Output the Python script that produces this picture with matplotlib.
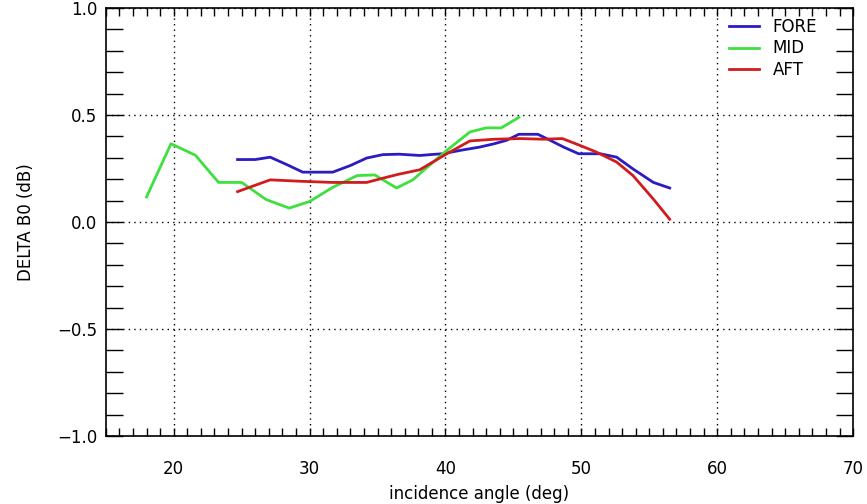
import matplotlib
matplotlib.use("Agg")
import matplotlib.pyplot as plt
from matplotlib.ticker import MultipleLocator, FixedLocator

# incidence angle (deg) and delta B0 (dB) per beam
fore_x = [24.7, 26.0, 27.1, 28.3, 29.5, 31.7, 33.0, 34.2, 35.4, 36.6, 38.1, 39.1,
          39.8, 41.1, 42.5, 43.6, 44.5, 45.4, 46.8, 47.7, 48.7, 49.8, 51.4, 52.6,
          53.8, 55.3, 56.5]
fore_y = [0.292, 0.292, 0.303, 0.269, 0.233, 0.233, 0.264, 0.299, 0.315, 0.317, 0.311,
          0.316, 0.319, 0.335, 0.350, 0.366, 0.382, 0.410, 0.410, 0.382, 0.350, 0.319,
          0.319, 0.303, 0.248, 0.185, 0.159]

mid_x = [18.0, 19.8, 21.6, 23.3, 25.0, 26.8, 28.5, 30.0, 31.7, 33.5, 34.8, 36.4,
         37.6, 38.6, 40.1, 41.8, 43.0, 44.1, 45.4]
mid_y = [0.117, 0.366, 0.312, 0.185, 0.185, 0.105, 0.065, 0.096, 0.162, 0.217, 0.220,
         0.159, 0.197, 0.253, 0.335, 0.421, 0.440, 0.440, 0.489]

aft_x = [24.7, 27.1, 29.5, 31.7, 34.2, 35.4, 36.6, 38.1, 40.1, 41.8, 43.6, 45.5,
         47.2, 48.6, 49.9, 51.1, 52.6, 53.8, 55.3, 56.5]
aft_y = [0.142, 0.197, 0.190, 0.185, 0.185, 0.205, 0.224, 0.244, 0.319, 0.379, 0.387,
         0.390, 0.387, 0.390, 0.358, 0.327, 0.280, 0.217, 0.107, 0.013]

x_labels = [20, 30, 40, 50, 60, 70]
y_labels = [-1.0, -0.5, 0.0, 0.5, 1.0]

plt.rcParams["font.family"] = ["DejaVu Sans"]
plt.rcParams["axes.unicode_minus"] = True

fig = plt.figure(figsize=(8.67, 5.04), dpi=100)
ax = fig.add_axes([0.122, 0.135, 0.862, 0.849])

ax.plot(fore_x, fore_y, color="#2a1cc0", linewidth=2, label="FORE")
ax.plot(mid_x, mid_y, color="#3ee03e", linewidth=2, label="MID")
ax.plot(aft_x, aft_y, color="#d01c1c", linewidth=2, label="AFT")

ax.set_xlim(15, 70)
ax.set_ylim(-1.0, 1.0)

ax.xaxis.set_major_locator(FixedLocator(x_labels))
ax.xaxis.set_minor_locator(MultipleLocator(1))
ax.yaxis.set_major_locator(FixedLocator(y_labels))
ax.yaxis.set_minor_locator(MultipleLocator(0.1))
ax.set_yticklabels([f"{v:.1f}".replace("-", "\u2212") for v in y_labels])

ax.tick_params(axis="both", which="both", direction="in", top=True, right=True,
               color="black", labelsize=12, width=1)
ax.tick_params(axis="x", which="both", length=6, pad=17)
ax.tick_params(axis="y", which="both", length=12, pad=6)

ax.grid(True, which="major", color="black", linestyle=(0, (1, 3)), linewidth=1)

for sp in ax.spines.values():
    sp.set_linewidth(1.2)

ax.set_xlabel("incidence angle (deg)", fontsize=12, labelpad=5)
ax.set_ylabel("DELTA B0 (dB)", fontsize=12, labelpad=16)

ax.legend(loc="upper right", frameon=False, fontsize=12, handlelength=1.8,
          handletextpad=0.8, labelspacing=0.2, borderaxespad=0.2,
          bbox_to_anchor=(0.965, 1.0))

fig.savefig("out.png", dpi=100)
